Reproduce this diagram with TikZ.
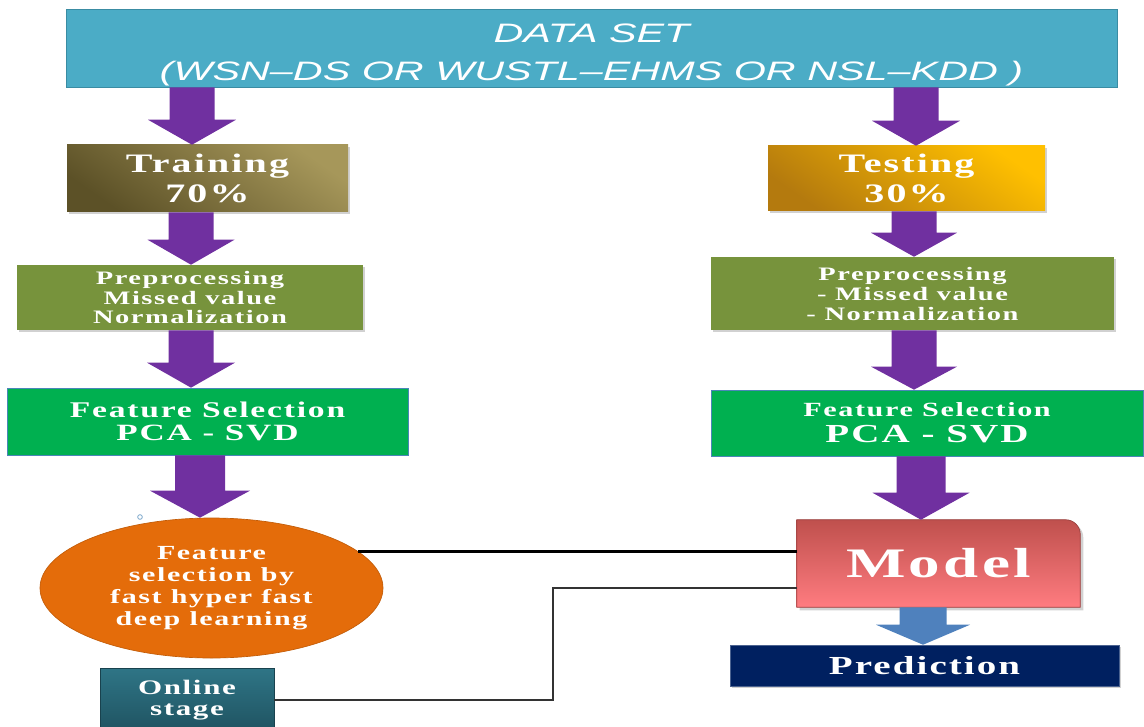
\documentclass[tikz,border=0pt]{standalone}
\usepackage{fontspec}
\setmainfont{Liberation Serif}
\newfontfamily\lbl[FakeStretch=1.5,LetterSpace=8]{Liberation Serif}
\newfontfamily\dsfont[FakeStretch=1.55]{Liberation Sans}
\usetikzlibrary{calc,shapes.geometric,backgrounds,shadows}

\definecolor{dsblue}{HTML}{4BACC6}
\definecolor{dsedge}{HTML}{3A8CA3}
\definecolor{arrowpurple}{HTML}{7030A0}
\definecolor{traindark}{HTML}{5C5127}
\definecolor{trainlight}{HTML}{A6975A}
\definecolor{testlight}{HTML}{FFC000}
\definecolor{testdark}{HTML}{B47A0E}
\definecolor{prepgreen}{HTML}{77933C}
\definecolor{fsgreen}{HTML}{00B050}
\definecolor{fsedge}{HTML}{4A86B8}
\definecolor{ellorange}{HTML}{E46C0A}
\definecolor{modeltop}{HTML}{BF504D}
\definecolor{modelbottom}{HTML}{FF7C80}
\definecolor{arrowblue}{HTML}{4F81BD}
\definecolor{prednavy}{HTML}{002060}
\definecolor{onlinetop}{HTML}{2F7586}
\definecolor{onlinebottom}{HTML}{1F5361}

% block arrow: #2 = x of the axis, #3 = anchor it leaves, #4 = anchor it points at
% #5 half shaft width, #6 head width, #7 head length
\newcommand\blockarrow[7][arrowpurple]{%
  \fill[#1] ($(#2,0 |- #3)+(-#5,0)$) -- ++(2*#5,0)
    -- ($(#2,0 |- #4)+(#5,-#7)$) -- ++(#6/2-#5,0)
    -- (#2,0 |- #4) -- ++(-#6/2,-#7) -- ++(#6/2-#5,0) -- cycle;}

\tikzset{
  boxtext/.style={text=white, align=center, inner sep=0pt, font=\lbl\bfseries},
  plainbox/.style={boxtext, rectangle, anchor=center},
  softshadow/.style={drop shadow={shadow xshift=1.2pt, shadow yshift=-1.2pt, opacity=.3, fill=black!60}},
}

\begin{document}
\begin{tikzpicture}[x=0.75pt,y=-0.75pt]
\useasboundingbox (0,0) rectangle (1144,727);
\clip (0,0) rectangle (1144,727);

% data set banner and its title
\node[rectangle, fill=dsblue, draw=dsedge, line width=0.6pt,
      minimum width=788.25pt, minimum height=58.5pt, inner sep=0pt]
  (ds) at (591.5,48) {};
\node[text=white, align=center, inner sep=0pt,
      font=\dsfont\itshape\fontsize{20}{28.5}\selectfont]
  (dstitle) at ($(ds.center)+(0,7)$) {DATA SET\\(WSN–DS OR WUSTL–EHMS OR NSL–KDD )};

% training / testing split
\node[plainbox, softshadow, top color=trainlight, bottom color=traindark, shading angle=-35,
      minimum width=210.75pt, minimum height=50.25pt,
      font=\lbl\bfseries\fontsize{20}{22.5}\selectfont]
  (train) at (207.5,178.5) {Training\\70\%};
\node[plainbox, softshadow, top color=testlight, bottom color=testdark, shading angle=-35,
      minimum width=207.75pt, minimum height=48.75pt,
      font=\lbl\bfseries\fontsize{20}{22.5}\selectfont]
  (test) at (906.5,178.5) {Testing\\30\%};

% preprocessing
\node[plainbox, softshadow, fill=prepgreen, minimum width=259.5pt, minimum height=48.75pt,
      font=\lbl\bfseries\fontsize{14.25}{14.6}\selectfont]
  (prepL) at (190,297.5) {Preprocessing\\Missed value\\Normalization};
\node[plainbox, softshadow, fill=prepgreen, minimum width=302.25pt, minimum height=54.75pt,
      font=\lbl\bfseries\fontsize{14.25}{15}\selectfont]
  (prepR) at (912.5,293.5) {Preprocessing\\- Missed value\\- Normalization};

% feature selection
\node[plainbox, fill=fsgreen, draw=fsedge, line width=0.5pt,
      minimum width=300.75pt, minimum height=50.25pt,
      font=\lbl\bfseries\fontsize{16.8}{17.25}\selectfont]
  (fsL) at (207.5,421.5) {Feature Selection\\{\fontsize{17.5}{17.25}\selectfont PCA - SVD}};
\node[plainbox, fill=fsgreen, draw=fsedge, line width=0.5pt,
      minimum width=324pt, minimum height=49.5pt,
      font=\lbl\bfseries\fontsize{15.1}{19.5}\selectfont]
  (fsR) at (927,423) {Feature Selection\\{\fontsize{19.5}{19.5}\selectfont PCA - SVD}};

% learning stage
\node[ellipse, boxtext, fill=ellorange, draw=ellorange!85!black, line width=0.5pt,
      minimum width=257.25pt, minimum height=105pt,
      font=\lbl\bfseries\fontsize{15}{16.4}\selectfont]
  (ell) at (211.5,588) {Feature\\selection by\\fast hyper fast\\deep learning};

% model box (top right corner rounded)
\node[boxtext, minimum width=212.25pt, minimum height=65.25pt,
      font=\lbl\bfseries\fontsize{31.5}{32}\selectfont]
  (model) at (938.5,563.5) {Model};
\begin{scope}[on background layer]
  \fill[black!35, opacity=.5] ($(model.south west)+(3,3)$) -- ($(model.north west)+(3,3)$)
     [rounded corners=11pt] -- ($(model.north east)+(3,3)$) [sharp corners] -- ($(model.south east)+(3,3)$) -- cycle;
  \shade[top color=modeltop, bottom color=modelbottom, draw=modeltop!80!black, line width=0.5pt]
     (model.south west) -- (model.north west) [rounded corners=11pt] -- (model.north east)
     [sharp corners] -- (model.south east) -- cycle;
\end{scope}

% prediction
\node[plainbox, softshadow, fill=prednavy, draw=prednavy!70!white, line width=0.4pt,
      minimum width=291.75pt, minimum height=30.75pt,
      font=\lbl\bfseries\fontsize{19.5}{20}\selectfont]
  (pred) at (924.5,665.5) {Prediction};

% online stage
\node[plainbox, top color=onlinetop, bottom color=onlinebottom, draw=onlinebottom!80!black, line width=0.5pt,
      minimum width=130.5pt, minimum height=48pt,
      font=\lbl\bfseries\fontsize{15.5}{15.75}\selectfont]
  (online) at (187,700) {Online\\stage};

% small mark above the ellipse
\node[circle, draw=fsedge!70!white, fill=white, line width=0.6pt, minimum size=3.5pt, inner sep=0pt]
  (mark) at (140,517) {};

% block arrows
\blockarrow{192}{ds.south}{train.north}{22.5}{88}{25}
\blockarrow{916}{ds.south}{test.north}{22.5}{88}{25}
\blockarrow{191}{train.south}{prepL.north}{22.5}{87}{25}
\blockarrow{914}{test.south}{prepR.north}{22.5}{86}{24}
\blockarrow{191}{prepL.south}{fsL.north}{22.5}{88}{25}
\blockarrow{914}{prepR.south}{fsR.north}{22.5}{86}{23}
\blockarrow{200}{fsL.south}{ell.north}{25}{100}{27}
\blockarrow{921}{fsR.south}{model.north}{24.5}{97}{27}
\blockarrow[arrowblue]{923}{model.south}{pred.north}{23.5}{94}{20}

% connectors into the model
\draw[line width=2pt, black] (ell.14.8) -- (ell.14.8 -| model.west);
\draw[line width=1.4pt, black!80] (online.east) -- (553,0 |- online.east)
   |- ($(model.west)+(0,24.5)$);
\end{tikzpicture}
\end{document}
